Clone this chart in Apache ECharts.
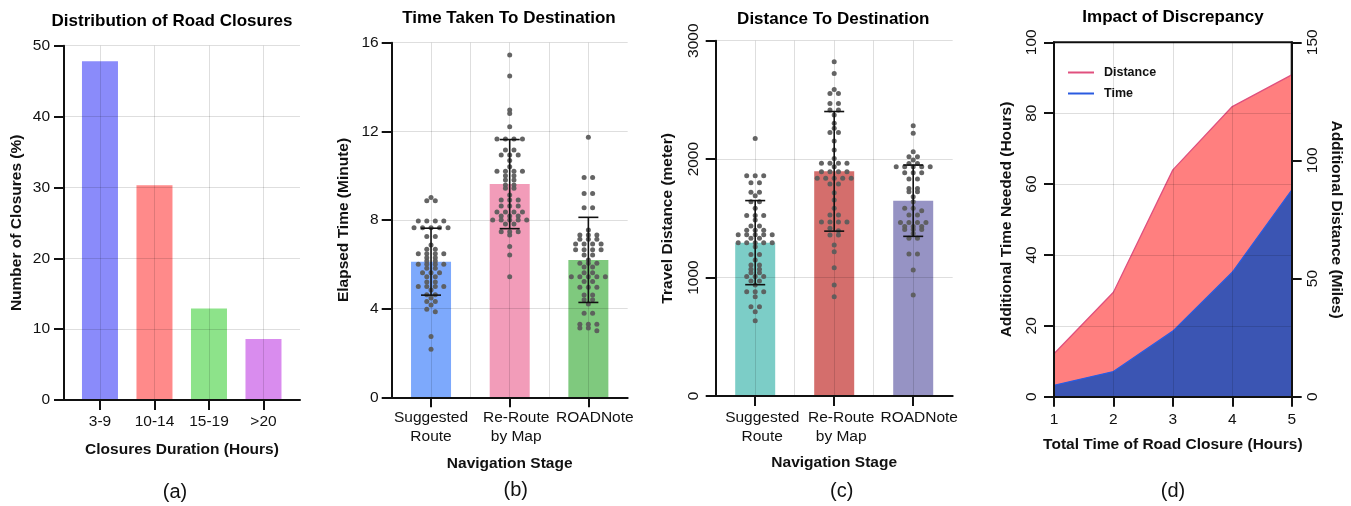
<!DOCTYPE html>
<html>
<head>
<meta charset="utf-8">
<script src="https://cdn.jsdelivr.net/npm/echarts@6/dist/echarts.min.js"></script>
<style>
html,body{margin:0;padding:0;background:#fff;}
#c{width:1351px;height:506px;}
</style>
</head>
<body>
<div id="c"></div>
<script>
// ---------------- DATA ----------------
const closureCats = ['3-9', '10-14', '15-19', '>20'];
const closurePct = [47.8, 30.3, 12.9, 8.6];

const stageCats = ['Suggested\nRoute', 'Re-Route\nby Map', 'ROADNote'];

const timeMean = [6.12, 9.62, 6.2];
const timeSD = [1.51, 2.01, 1.92];
const timeSuggested = [9.02, 8.87, 8.87, 7.95, 7.95, 7.95, 7.95, 7.65, 7.65, 7.65, 7.65, 7.65, 7.25, 7.25, 6.87, 6.68, 6.68, 6.48, 6.48, 6.48, 6.48, 6.3, 6.3, 6.15, 6.15, 6.0, 6.0, 6.0, 6.0, 5.82, 5.82, 5.62, 5.62, 5.62, 5.44, 5.44, 5.2, 5.2, 5.0, 5.0, 5.0, 5.0, 4.84, 4.63, 4.63, 4.48, 4.32, 4.32, 4.17, 3.97, 3.86, 2.74, 2.17];
const timeReroute = [15.44, 14.5, 12.96, 12.8, 12.21, 11.66, 11.66, 11.66, 11.66, 11.16, 11.16, 10.93, 10.93, 10.93, 10.68, 10.4, 10.2, 10.2, 10.2, 10.2, 10.0, 10.0, 9.8, 9.8, 9.58, 9.58, 9.43, 9.43, 9.13, 8.9, 8.9, 8.9, 8.63, 8.63, 8.63, 8.36, 8.36, 8.36, 8.36, 8.18, 8.18, 8.18, 8.0, 8.0, 8.0, 8.0, 8.0, 7.82, 7.82, 7.47, 7.47, 7.47, 7.32, 6.8, 6.42, 5.44];
const timeRoadnote = [11.73, 9.92, 9.92, 9.2, 9.2, 8.55, 8.55, 7.55, 7.32, 7.32, 7.32, 7.13, 7.13, 7.13, 6.92, 6.92, 6.92, 6.92, 6.66, 6.66, 6.66, 6.66, 6.42, 6.42, 6.2, 6.05, 6.05, 6.05, 5.88, 5.88, 5.62, 5.62, 5.44, 5.44, 5.44, 5.44, 5.44, 5.22, 5.22, 4.96, 4.96, 4.96, 4.62, 4.62, 4.4, 4.4, 4.21, 3.79, 3.79, 3.3, 3.3, 3.3, 3.13, 3.13, 3.0];

const distMean = [1295, 1897, 1649];
const distSD = [355, 505, 301];
const distSuggested = [2175, 1860, 1860, 1860, 1800, 1800, 1720, 1720, 1690, 1640, 1640, 1585, 1525, 1525, 1525, 1486, 1435, 1435, 1400, 1400, 1400, 1362, 1362, 1362, 1362, 1362, 1331, 1331, 1295, 1295, 1295, 1295, 1295, 1261, 1195, 1195, 1148, 1106, 1106, 1070, 1070, 1040, 1040, 1008, 1008, 1008, 971, 971, 937, 880, 880, 880, 839, 754, 754, 712, 636];
const distReroute = [2823, 2724, 2589, 2555, 2555, 2470, 2470, 2415, 2415, 2372, 2302, 2260, 2225, 2225, 2153, 2077, 2006, 1965, 1965, 1965, 1965, 1936, 1894, 1894, 1894, 1894, 1838, 1838, 1838, 1838, 1838, 1790, 1790, 1717, 1655, 1585, 1528, 1528, 1470, 1470, 1470, 1470, 1416, 1396, 1360, 1360, 1275, 1219, 1083, 937, 839];
const distRoadnote = [2282, 2218, 2063, 2021, 2021, 1993, 1964, 1964, 1936, 1936, 1936, 1936, 1936, 1886, 1886, 1886, 1832, 1832, 1753, 1753, 1725, 1725, 1683, 1641, 1585, 1585, 1565, 1528, 1528, 1465, 1465, 1465, 1465, 1432, 1432, 1432, 1405, 1405, 1405, 1373, 1331, 1331, 1199, 1199, 1064, 853];

const closureHours = [1, 2, 3, 4, 5];
const extraDistanceMiles = [18.2, 44.2, 96, 122.8, 136.2];
const extraTimeHours = [3.2, 7.1, 18.5, 35.1, 58.3];

// ---------------- LAYOUT / STYLE ----------------
const FONT = 'Liberation Sans, Arial, Helvetica, sans-serif';
const INK = '#111';
const GRIDC = 'rgba(0,0,0,0.13)';
const FS = 15.5;
const G = [
  {left: 64, top: 45.7, width: 236, height: 354.3},
  {left: 391.7, top: 42.7, width: 236, height: 354.6},
  {left: 715.7, top: 40.7, width: 237, height: 355.3},
  {left: 1054, top: 42.3, width: 237.7, height: 354.4}
];
const closureColors = ['#8a8bfa', '#ff8a8a', '#8de38a', '#d98cee'];
const timeColors = ['#7da9fc', '#f29cb9', '#7fc97e'];
const distColors = ['#7ccdc7', '#d46e6c', '#9693c4'];
const DOT = '#5c5c5c';
// small rightward nudges (px) of the stage labels, as in the original figure
const labelNudgeB = [0, 6.5, 6.5];
const labelNudgeC = [7, 7, 6];

// beeswarm layout (pixel based rows, symmetric placement)
function swarm(values, center, pxPerY, pxPerX) {
  const spacing = 8.5, thresh = 3;
  const s = values.slice().sort((a, b) => b - a);
  const out = [];
  let i = 0;
  while (i < s.length) {
    const start = s[i], row = [];
    while (i < s.length && (start - s[i]) * pxPerY < thresh) { row.push(s[i]); i++; }
    row.forEach((v, k) => out.push([center + (k - (row.length - 1) / 2) * spacing / pxPerX, v]));
  }
  return out;
}

const axLine = {show: true, lineStyle: {color: INK, width: 2}};
const axTick = {show: true, length: 10, inside: false, lineStyle: {color: INK, width: 2}};
const split = {show: true, lineStyle: {color: GRIDC, width: 1}};
const nameStyle = {fontFamily: FONT, fontSize: FS, fontWeight: 'bold', color: INK};
const labStyle = {fontFamily: FONT, fontSize: FS, color: INK, showMinLabel: true, showMaxLabel: true, hideOverlap: false};
const plain = v => String(v);

function stageLabelAxis(gridIndex, grid, nudge, margin, nameGap) {
  const pxX = grid.width / 3;
  return {type: 'value', gridIndex: gridIndex, min: 0.5, max: 3.5, z: 3,
    axisLine: axLine, axisTick: Object.assign({customValues: [1, 2, 3]}, axTick),
    axisLabel: Object.assign({}, labStyle, {
      customValues: stageCats.map((c, i) => i + 1 + nudge[i] / pxX), margin: margin, lineHeight: 19,
      formatter: v => stageCats[Math.round(v) - 1]}),
    splitLine: {show: false}, name: 'Navigation Stage', nameLocation: 'middle', nameGap: nameGap,
    nameMoveOverlap: false, nameTextStyle: nameStyle};
}

function gridLineAxis(gridIndex) {
  return {type: 'value', gridIndex: gridIndex, min: 0.5, max: 3.5, position: 'top', z: 3,
    axisLine: {show: false}, axisTick: {show: false, customValues: [1, 1.5, 2, 2.5, 3]},
    axisLabel: {show: false}, splitLine: split};
}

function errorSeries(xi, yi, mean, sd) {
  return {
    type: 'custom', xAxisIndex: xi, yAxisIndex: yi, z: 6,
    data: mean.map((m, i) => [i + 1, m - sd[i], m + sd[i]]),
    encode: {x: 0, y: [1, 2]},
    renderItem: function (params, api) {
      const x = api.value(0);
      const top = api.coord([x, api.value(2)]);
      const bot = api.coord([x, api.value(1)]);
      const w = 10;
      const st = {stroke: '#111', lineWidth: 1.6};
      return {type: 'group', children: [
        {type: 'line', shape: {x1: top[0], y1: top[1], x2: bot[0], y2: bot[1]}, style: st},
        {type: 'line', shape: {x1: top[0] - w, y1: top[1], x2: top[0] + w, y2: top[1]}, style: st},
        {type: 'line', shape: {x1: bot[0] - w, y1: bot[1], x2: bot[0] + w, y2: bot[1]}, style: st}
      ]};
    }
  };
}

function dotSeries(xi, yi, groups, grid, yMax) {
  const pxY = grid.height / yMax, pxX = grid.width / 3;
  let pts = [];
  groups.forEach((g, i) => { pts = pts.concat(swarm(g, i + 1, pxY, pxX)); });
  return {type: 'scatter', xAxisIndex: xi, yAxisIndex: yi, z: 5, symbolSize: 5,
    itemStyle: {color: DOT, opacity: 0.95}, data: pts, silent: true};
}

const chart = echarts.init(document.getElementById('c'), null, {renderer: 'canvas'});

const option = {
  animation: false,
  backgroundColor: '#fff',
  textStyle: {fontFamily: FONT},
  grid: G.map((g, i) => Object.assign({outerBoundsMode: 'none', containLabel: false,
    show: i === 3, borderColor: INK, borderWidth: 2, backgroundColor: 'transparent'}, g)),
  legend: {
    left: 1063, top: 61, orient: 'vertical', icon: 'rect', itemWidth: 26, itemHeight: 2, itemGap: 8,
    textStyle: {fontFamily: FONT, fontSize: 12.5, fontWeight: 'bold', color: INK, padding: [0, 0, 0, 5]},
    data: ['Distance', 'Time']
  },
  xAxis: [
    // (a)
    {type: 'value', gridIndex: 0, min: 0.34, max: 4.67, z: 3,
      axisLine: axLine, axisTick: Object.assign({customValues: [1, 2, 3, 4]}, axTick),
      axisLabel: Object.assign({}, labStyle, {customValues: [1, 2, 3, 4], margin: 14,
        formatter: v => closureCats[Math.round(v) - 1]}),
      splitLine: split, name: 'Closures Duration (Hours)', nameLocation: 'middle', nameGap: 42,
      nameMoveOverlap: false, nameTextStyle: nameStyle},
    stageLabelAxis(1, G[1], labelNudgeB, 11, 58),
    gridLineAxis(1),
    stageLabelAxis(2, G[2], labelNudgeC, 12, 59),
    gridLineAxis(2),
    // (d)
    {type: 'value', gridIndex: 3, min: 1, max: 5, interval: 1, z: 3,
      axisLine: axLine, axisTick: axTick,
      axisLabel: Object.assign({}, labStyle, {margin: 15, formatter: plain}),
      splitLine: split, name: 'Total Time of Road Closure (Hours)', nameLocation: 'middle', nameGap: 40,
      nameMoveOverlap: false, nameTextStyle: nameStyle}
  ],
  yAxis: [
    {type: 'value', gridIndex: 0, min: 0, max: 50, interval: 10, z: 3,
      axisLine: axLine, axisTick: axTick, axisLabel: Object.assign({}, labStyle, {margin: 14, formatter: plain}),
      splitLine: split, name: 'Number of Closures (%)', nameLocation: 'middle', nameGap: 39,
      nameMoveOverlap: false, nameTextStyle: nameStyle},
    {type: 'value', gridIndex: 1, min: 0, max: 16, interval: 4, z: 3,
      axisLine: axLine, axisTick: axTick, axisLabel: Object.assign({}, labStyle, {margin: 13, formatter: plain}),
      splitLine: split, name: 'Elapsed Time (Minute)', nameLocation: 'middle', nameGap: 40,
      nameMoveOverlap: false, nameTextStyle: nameStyle},
    {type: 'value', gridIndex: 2, min: 0, max: 3000, interval: 1000, z: 3,
      axisLine: axLine, axisTick: axTick, axisLabel: Object.assign({}, labStyle, {margin: 14, rotate: 90, formatter: plain}),
      splitLine: split, name: 'Travel Distance (meter)', nameLocation: 'middle', nameGap: 40,
      nameMoveOverlap: false, nameTextStyle: nameStyle},
    {type: 'value', gridIndex: 3, min: 0, max: 100, interval: 20, z: 3,
      axisLine: axLine, axisTick: axTick, axisLabel: Object.assign({}, labStyle, {margin: 14, rotate: 90, formatter: plain}),
      splitLine: split, name: 'Additional Time Needed (Hours)', nameLocation: 'middle', nameGap: 39,
      nameMoveOverlap: false, nameTextStyle: nameStyle},
    {type: 'value', gridIndex: 3, position: 'right', min: 0, max: 150, interval: 50, z: 3,
      axisLine: axLine, axisTick: axTick, axisLabel: Object.assign({}, labStyle, {margin: 13, rotate: 90, formatter: plain}),
      splitLine: {show: false}, name: 'Additional Distance (Miles)', nameLocation: 'middle', nameGap: 37,
      nameRotate: -90, nameMoveOverlap: false, nameTextStyle: nameStyle}
  ],
  series: [
    {type: 'bar', xAxisIndex: 0, yAxisIndex: 0, barWidth: 36, z: 2,
      data: closurePct.map((v, i) => ({value: [i + 1, v], itemStyle: {color: closureColors[i]}}))},
    {type: 'bar', xAxisIndex: 1, yAxisIndex: 1, barWidth: 40, z: 2,
      data: timeMean.map((v, i) => ({value: [i + 1, v], itemStyle: {color: timeColors[i]}}))},
    dotSeries(1, 1, [timeSuggested, timeReroute, timeRoadnote], G[1], 16),
    errorSeries(1, 1, timeMean, timeSD),
    {type: 'bar', xAxisIndex: 3, yAxisIndex: 2, barWidth: 40, z: 2,
      data: distMean.map((v, i) => ({value: [i + 1, v], itemStyle: {color: distColors[i]}}))},
    dotSeries(3, 2, [distSuggested, distReroute, distRoadnote], G[2], 3000),
    errorSeries(3, 2, distMean, distSD),
    {name: 'Distance', type: 'line', xAxisIndex: 5, yAxisIndex: 4, showSymbol: false, z: 2,
      data: closureHours.map((h, i) => [h, extraDistanceMiles[i]]),
      itemStyle: {color: '#e0507e'}, lineStyle: {color: '#e0507e', width: 1.3},
      areaStyle: {color: '#ff7f7f', opacity: 1}},
    {name: 'Time', type: 'line', xAxisIndex: 5, yAxisIndex: 3, showSymbol: false, z: 2,
      data: closureHours.map((h, i) => [h, extraTimeHours[i]]),
      itemStyle: {color: '#2a5be0'}, lineStyle: {color: '#2a5be0', width: 1.3},
      areaStyle: {color: '#3b55b3', opacity: 1}}
  ],
  graphic: [
    ['Distribution of Road Closures', 172, 21.7],
    ['Time Taken To Destination', 509, 18.3],
    ['Distance To Destination', 833.3, 19],
    ['Impact of Discrepancy', 1173, 17.3]
  ].map(t => ({type: 'text', x: t[1], y: t[2], silent: true,
      style: {text: t[0], fill: '#000', font: 'bold 17px ' + FONT, align: 'center', verticalAlign: 'middle'}}))
   .concat([
    ['(a)', 175, 492], ['(b)', 515.7, 490.5], ['(c)', 841.7, 491.5], ['(d)', 1173, 491.7]
  ].map(t => ({type: 'text', x: t[1], y: t[2], silent: true,
      style: {text: t[0], fill: '#111', font: '20px ' + FONT, align: 'center', verticalAlign: 'middle'}})))
};
chart.setOption(option);
</script>
</body>
</html>
